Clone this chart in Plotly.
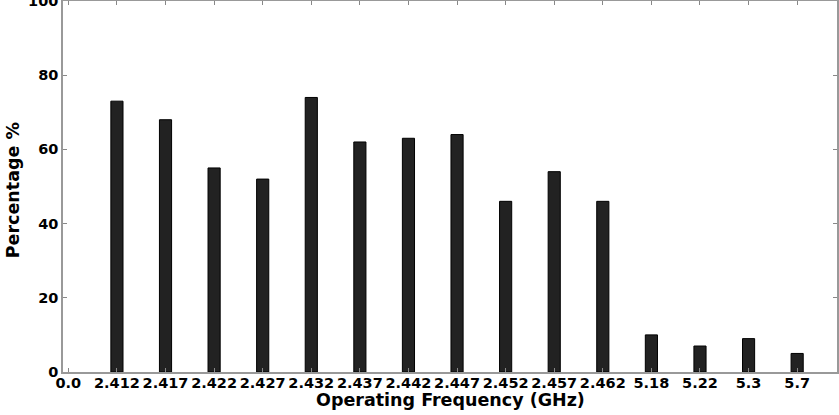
import plotly.graph_objects as go

tick_labels = ["0.0", "2.412", "2.417", "2.422", "2.427", "2.432", "2.437", "2.442",
               "2.447", "2.452", "2.457", "2.462", "5.18", "5.22", "5.3", "5.7"]
frequencies = tick_labels[1:]
percentages = [73, 68, 55, 52, 74, 62, 63, 64, 46, 54, 46, 10, 7, 9, 5]
positions = list(range(1, len(frequencies) + 1))

font_family = "DejaVu Sans"
W, H = 839, 415
L, R, T, B = 63, 2, 1, 43
plot_w = W - L - R
plot_h = H - T - B

fig = go.Figure()
fig.add_trace(go.Bar(
    x=positions,
    y=percentages,
    width=0.25,
    marker=dict(color="#222222", line=dict(color="#000000", width=1)),
    hovertext=frequencies,
))

title_font = dict(family=font_family, size=17.5, color="black", weight="bold")

fig.update_layout(
    width=W, height=H,
    margin=dict(l=L, r=R, t=T, b=B, autoexpand=False),
    plot_bgcolor="white",
    paper_bgcolor="white",
    showlegend=False,
    font=dict(family=font_family, color="black"),
    xaxis=dict(
        range=[-0.11, 15.82],
        tickmode="array",
        tickvals=list(range(len(tick_labels))),
        ticktext=tick_labels,
        tickangle=0,
        ticks="inside", ticklen=4, tickcolor="#888888",
        showline=True, linecolor="#999999", linewidth=1.5,
        mirror="allticks",
        showgrid=False, zeroline=False,
        automargin=False,
        ticklabelstandoff=-3,
        tickfont=dict(family=font_family, size=14.5, color="black", weight="bold"),
    ),
    yaxis=dict(
        range=[0, 100],
        tickvals=[0, 20, 40, 60, 80, 100],
        ticks="inside", ticklen=4, tickcolor="#888888",
        showline=True, linecolor="#999999", linewidth=1.5,
        mirror="allticks",
        showgrid=False, zeroline=False,
        automargin=False,
        ticklabeloverflow="allow",
        tickfont=dict(family=font_family, size=14.5, color="black", weight="bold"),
    ),
    annotations=[
        dict(text="Operating Frequency (GHz)", xref="paper", yref="paper",
             x=0.5, y=-(400 - (T + plot_h)) / plot_h, xanchor="center", yanchor="middle",
             showarrow=False, font=title_font),
        dict(text="Percentage %", xref="paper", yref="paper",
             x=(13 - L) / plot_w, y=0.49, xanchor="center", yanchor="middle",
             textangle=-90, showarrow=False, font=title_font),
    ],
)

fig.write_html(
    "out.html",
    config={"displayModeBar": False},
    post_script="document.body.style.margin='0';document.body.style.padding='0';",
)
